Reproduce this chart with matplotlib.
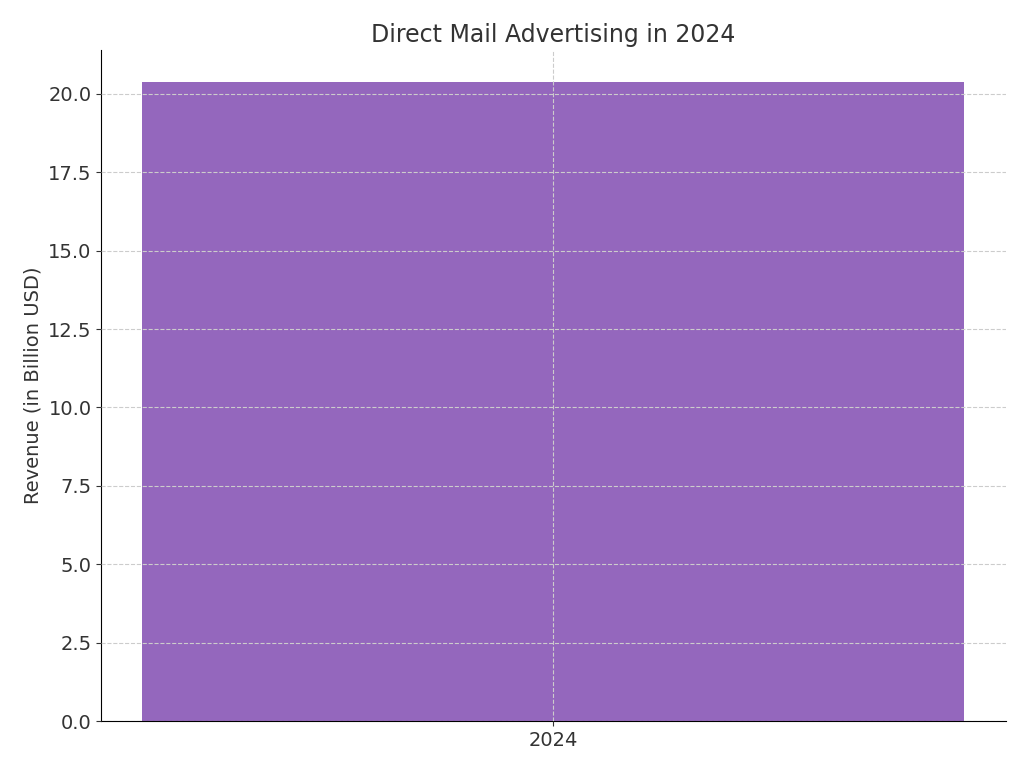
import matplotlib
matplotlib.use("Agg")
import matplotlib.pyplot as plt

categories = ["2024"]
revenue = [20.38]

plt.rcParams['font.family'] = ['DejaVu Sans']
fig, ax = plt.subplots(figsize=(10.24, 7.68), dpi=100)
fig.subplots_adjust(left=0.099, right=0.982, top=0.935, bottom=0.061)
ax.bar(categories, revenue, color="#9467bd", width=0.8)
ax.set_axisbelow(False)
ax.grid(True, linestyle="--", color="#cccccc", linewidth=0.8)
ax.set_title("Direct Mail Advertising in 2024", fontsize=17, color="#333333")
ax.set_ylabel("Revenue (in Billion USD)", fontsize=14, color="#333333")
ax.tick_params(labelsize=14, colors="#333333")
for s in ["top", "right"]:
    ax.spines[s].set_visible(False)
ax.set_yticks([0, 2.5, 5, 7.5, 10, 12.5, 15, 17.5, 20])
fig.savefig("out.png")
